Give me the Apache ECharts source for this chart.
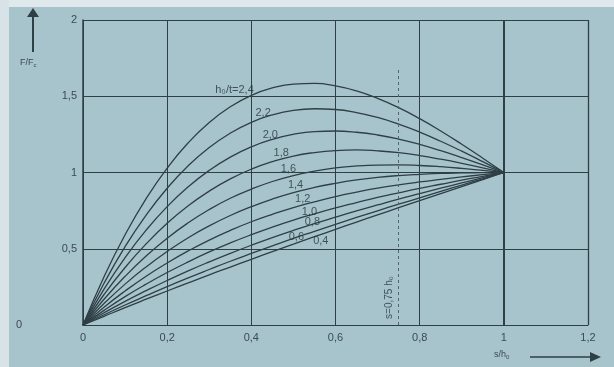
<!DOCTYPE html>
<html>
<head>
<meta charset="utf-8">
<script src="https://cdn.jsdelivr.net/npm/echarts@6/dist/echarts.min.js"></script>
<style>
    html, body { margin: 0; padding: 0; background: #a7c3cc; }
    #chart { width: 614px; height: 367px; }
</style>
</head>
<body>
<div id="chart"></div>
<script>
// s/h0 sample positions read along the x axis
const sRatio = [0, 0.05, 0.1, 0.15, 0.2, 0.25, 0.3, 0.35, 0.4, 0.45, 0.5,
    0.55, 0.6, 0.65, 0.7, 0.75, 0.8, 0.85, 0.9, 0.95, 1.0];

// F/Fc, one array per h0/t
const h24 = [0, 0.317, 0.592, 0.829, 1.029, 1.195, 1.328, 1.431, 1.506, 1.555, 1.580, 1.584, 1.568, 1.535, 1.486, 1.425, 1.353, 1.272, 1.185, 1.094, 1];
const h22 = [0, 0.274, 0.514, 0.721, 0.897, 1.044, 1.164, 1.258, 1.329, 1.378, 1.408, 1.418, 1.413, 1.393, 1.361, 1.317, 1.265, 1.205, 1.140, 1.071, 1];
const h20 = [0, 0.235, 0.442, 0.622, 0.776, 0.906, 1.014, 1.101, 1.168, 1.217, 1.250, 1.268, 1.272, 1.264, 1.246, 1.219, 1.184, 1.143, 1.098, 1.050, 1];
const h18 = [0, 0.200, 0.377, 0.532, 0.667, 0.782, 0.878, 0.958, 1.022, 1.071, 1.108, 1.131, 1.144, 1.148, 1.142, 1.130, 1.111, 1.087, 1.060, 1.031, 1];
const h16 = [0, 0.169, 0.319, 0.452, 0.569, 0.670, 0.757, 0.831, 0.891, 0.941, 0.980, 1.009, 1.030, 1.043, 1.049, 1.050, 1.046, 1.038, 1.027, 1.014, 1];
const h14 = [0, 0.141, 0.268, 0.381, 0.482, 0.572, 0.650, 0.718, 0.776, 0.826, 0.868, 0.902, 0.929, 0.951, 0.968, 0.980, 0.988, 0.994, 0.997, 0.999, 1];
const h12 = [0, 0.117, 0.223, 0.320, 0.407, 0.486, 0.557, 0.620, 0.677, 0.726, 0.770, 0.808, 0.842, 0.871, 0.897, 0.919, 0.938, 0.955, 0.971, 0.986, 1];
const h10 = [0, 0.096, 0.186, 0.268, 0.344, 0.414, 0.479, 0.538, 0.592, 0.642, 0.688, 0.729, 0.768, 0.803, 0.837, 0.867, 0.896, 0.923, 0.950, 0.975, 1];
const h08 = [0, 0.080, 0.155, 0.225, 0.292, 0.355, 0.414, 0.470, 0.523, 0.573, 0.620, 0.665, 0.707, 0.748, 0.787, 0.825, 0.861, 0.897, 0.932, 0.966, 1];
const h06 = [0, 0.067, 0.131, 0.192, 0.252, 0.309, 0.364, 0.418, 0.469, 0.519, 0.568, 0.614, 0.660, 0.705, 0.749, 0.792, 0.834, 0.876, 0.918, 0.959, 1];
const h04 = [0, 0.057, 0.114, 0.169, 0.223, 0.276, 0.329, 0.380, 0.431, 0.481, 0.530, 0.579, 0.627, 0.675, 0.722, 0.769, 0.815, 0.862, 0.908, 0.954, 1];

const curves = [h24, h22, h20, h18, h16, h14, h12, h10, h08, h06, h04];
const curveNames = ['2,4', '2,2', '2,0', '1,8', '1,6', '1,4', '1,2', '1,0', '0,8', '0,6', '0,4'];

// curve annotations, placed in data space
const labelText = ['h₀/t=2,4', '2,2', '2,0', '1,8', '1,6', '1,4', '1,2', '1,0', '0,8', '0,6', '0,4'];
const labelX = [0.36, 0.428, 0.445, 0.471, 0.488, 0.505, 0.522, 0.538, 0.545, 0.507, 0.565];
const labelY = [1.54, 1.39, 1.245, 1.13, 1.02, 0.92, 0.826, 0.742, 0.677, 0.58, 0.548];

// dashed marker s = 0,75 h0
const markerS = 0.75;
const markerTop = 1.69;
const markerText = 's=0,75 h₀';

const ink = '#2f3f46';
const fmt = v => String(Number(v.toFixed(1))).replace('.', ',');

const chart = echarts.init(document.getElementById('chart'));

const curveSeries = curves.map((vals, i) => ({
    name: curveNames[i],
    type: 'line',
    data: vals.map((y, j) => [sRatio[j], y]),
    smooth: 0.5,
    showSymbol: false,
    silent: true,
    lineStyle: { color: ink, width: 1.3 },
    z: 3,
}));

const option = {
    backgroundColor: '#a7c3cc',
    animation: false,
    grid: { left: 83, top: 20, right: 26, bottom: 42 },
    xAxis: {
        type: 'value',
        min: 0,
        max: 1.2,
        interval: 0.2,
        axisLine: { show: true, lineStyle: { color: ink, width: 1 } },
        axisTick: { show: false },
        splitLine: { show: true, lineStyle: { color: ink, width: 1 } },
        axisLabel: {
            formatter: fmt,
            color: '#3c4b52',
            fontFamily: 'Liberation Sans',
            fontSize: 11,
            margin: 7,
        },
    },
    yAxis: {
        type: 'value',
        min: 0,
        max: 2,
        interval: 0.5,
        axisLine: { show: true, lineStyle: { color: ink, width: 1.5 } },
        axisTick: { show: false },
        splitLine: { show: true, lineStyle: { color: ink, width: 1 } },
        axisLabel: {
            formatter: v => (v === 0 ? '{z|0}' : fmt(v)),
            color: '#3c4b52',
            fontFamily: 'Liberation Sans',
            fontSize: 11,
            margin: 6,
            rich: {
                z: { padding: [0, 55, 0, 0], fontSize: 11, color: '#3c4b52', fontFamily: 'Liberation Sans' },
            },
        },
    },
    series: [
        ...curveSeries,
        {
            name: 'frame',
            type: 'line',
            data: [],
            silent: true,
            markLine: {
                symbol: 'none',
                silent: true,
                label: { show: false },
                data: [
                    [{ coord: [1, 0], lineStyle: { color: ink, width: 2, type: 'solid' } }, { coord: [1, 2] }],
                    [{ coord: [1.2, 0], lineStyle: { color: ink, width: 1.3, type: 'solid' } }, { coord: [1.2, 2] }],
                    [{ coord: [markerS, 0], lineStyle: { color: '#55656b', width: 1, type: [3, 3] } }, { coord: [markerS, markerTop] }],
                ],
            },
        },
        {
            name: 'labels',
            type: 'scatter',
            symbolSize: 0,
            silent: true,
            z: 4,
            data: labelText.map((t, i) => ({ value: [labelX[i], labelY[i]], name: t })),
            label: {
                show: true,
                position: 'inside',
                formatter: p => p.name,
                color: '#27363c',
                fontFamily: 'Liberation Sans',
                fontSize: 11,
            },
        },
        {
            name: 'marker label',
            type: 'scatter',
            symbolSize: 0,
            silent: true,
            data: [{ value: [0.727, 0.18], name: markerText }],
            label: {
                show: true,
                position: 'inside',
                rotate: 90,
                formatter: p => p.name,
                color: '#27363c',
                fontFamily: 'Liberation Sans',
                fontSize: 10,
            },
        },
    ],
    graphic: [
        // pale paper strips at the photo edges
        { type: 'rect', left: 0, top: 0, shape: { width: 614, height: 7 }, style: { fill: '#dfe8eb' }, z: -1 },
        { type: 'rect', left: 0, top: 0, shape: { width: 9, height: 367 }, style: { fill: '#d7e3e7' }, z: -1 },
        // y axis title with arrow
        { type: 'line', shape: { x1: 33, y1: 52, x2: 33, y2: 12 }, style: { stroke: ink, lineWidth: 2 } },
        { type: 'polygon', shape: { points: [[33, 8], [27, 17], [39, 17]] }, style: { fill: ink } },
        {
            type: 'text', left: 20, top: 58,
            style: {
                text: 'F/F{s|c}',
                rich: { s: { fontSize: 6, padding: [5, 0, 0, 0], fill: '#3c4b52' } },
                font: '9px "Liberation Sans"', fill: '#3c4b52',
            },
        },
        // x axis title with arrow
        {
            type: 'text', left: 494, top: 350,
            style: {
                text: 's/h{s|0}',
                rich: { s: { fontSize: 6, padding: [5, 0, 0, 0], fill: '#3c4b52' } },
                font: '9px "Liberation Sans"', fill: '#3c4b52',
            },
        },
        { type: 'line', shape: { x1: 530, y1: 357, x2: 594, y2: 357 }, style: { stroke: ink, lineWidth: 1.5 } },
        { type: 'polygon', shape: { points: [[601, 357], [590, 352], [590, 362]] }, style: { fill: ink } },
    ],
};

chart.setOption(option);
</script>
</body>
</html>
